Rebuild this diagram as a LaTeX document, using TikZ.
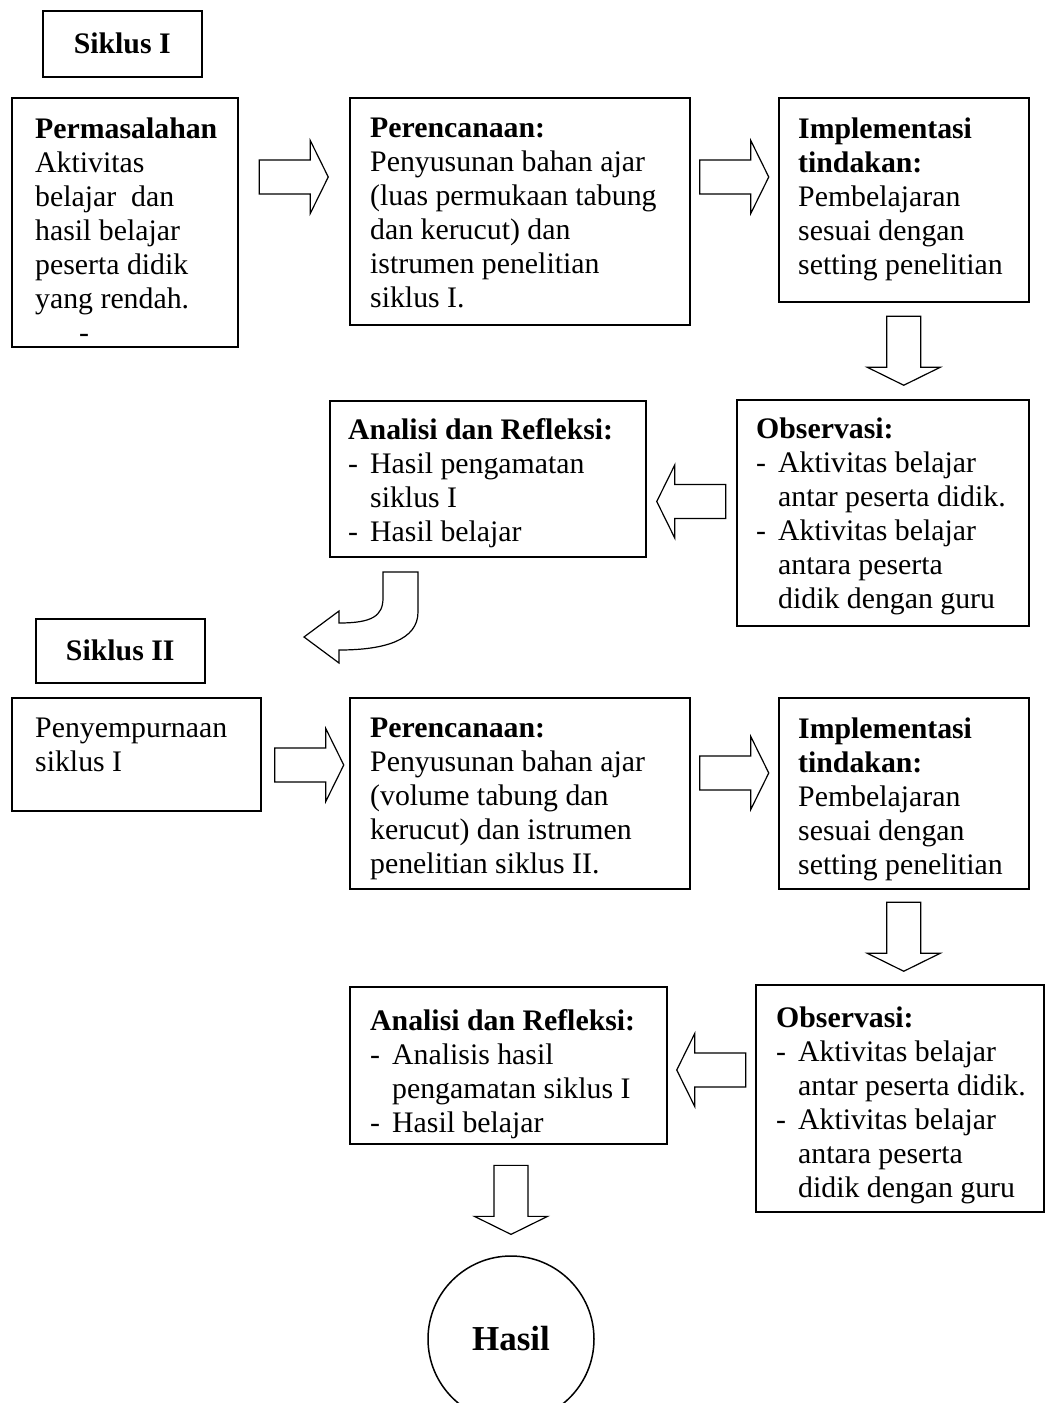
\documentclass[tikz,border=0pt]{standalone}
\usepackage{fontspec}
\setmainfont{Liberation Serif}
\usetikzlibrary{calc}

\newcommand{\dashitem}{\makebox[22pt][l]{-}}
\newcommand{\hangin}{\hspace*{22pt}}

\tikzset{
    box/.style={draw, line width=1.5pt, anchor=north west, inner sep=0pt},
    txt/.style={anchor=north west, align=left, inner sep=0pt,
        font=\fontsize{29.8}{34}\selectfont, execute at begin node=\strut},
    barrow/.pic={
        \draw[line width=1.2pt, fill=white] (-34.5,-17) -- (16.5,-17) -- (16.5,-36.5)
            -- (34.5,0) -- (16.5,36.5) -- (16.5,17) -- (-34.5,17) -- cycle;
    }
}

\begin{document}
\begin{tikzpicture}[x=1pt, y=-1pt]
    \useasboundingbox (0,0) rectangle (1045,1403);

    % Siklus I
    \node[box, minimum width=159, minimum height=66, font=\fontsize{29.8}{34}\selectfont\bfseries] (sika) at (42,10) {Siklus I};

    \node[box, minimum width=226, minimum height=249] (perm) at (11,97) {};
    \node[box, minimum width=340, minimum height=227] (plana) at (349,97) {};
    \node[box, minimum width=250, minimum height=204] (impla) at (778,97) {};
    \node[box, minimum width=292, minimum height=226] (obsa) at (736,399) {};
    \node[box, minimum width=316, minimum height=156] (anaa) at (329,400) {};

    \node[txt] (permT) at (35,118) {\textbf{Permasalahan}\\Aktivitas\\belajar\ \ dan\\hasil belajar\\peserta didik\\yang rendah.\\\hspace*{44pt}-};
    \node[txt] (planaT) at (370,118) {\textbf{Perencanaan:}\\Penyusunan bahan ajar\\(luas permukaan tabung\\dan kerucut) dan\\istrumen penelitian\\siklus I.};
    \node[txt] (implaT) at (798,118) {\textbf{Implementasi}\\\textbf{tindakan:}\\Pembelajaran\\sesuai dengan\\setting penelitian};
    \node[txt] (obsaT) at (756,418) {\textbf{Observasi:}\\\dashitem Aktivitas belajar\\\hangin antar peserta didik.\\\dashitem Aktivitas belajar\\\hangin antara peserta\\\hangin didik dengan guru};
    \node[txt] (anaaT) at (348,418) {\textbf{Analisi dan Refleksi:}\\\dashitem Hasil pengamatan\\\hangin siklus I\\\dashitem Hasil belajar};

    \pic at ($(perm.north east)!.5!(plana.north west)+(0,80)$) {barrow};
    \pic at ($(plana.north east)!.5!(impla.north west)+(0,80)$) {barrow};
    \pic[rotate=-90] at ($(impla.south)!.5!(impla.south |- obsa.north)$) {barrow};
    \pic[rotate=180] at ($(anaa.north east)!.5!(obsa.north west)+(0,102)$) {barrow};

    % panah belok ke siklus II
    \draw[line width=1.2pt, fill=white] (383,572) -- (418,572) -- (418,612)
        .. controls (418,640) and (385,650) .. (339,650) -- (339,663) -- (304,637)
        -- (339,611) -- (339,623) .. controls (372,623) and (383,616) .. (383,598) -- cycle;

    % Siklus II
    \node[box, minimum width=169, minimum height=64, font=\fontsize{29.8}{34}\selectfont\bfseries] (sikb) at (35,618) {Siklus II};

    \node[box, minimum width=249, minimum height=113] (perb) at (11,697) {};
    \node[box, minimum width=340, minimum height=191] (planb) at (349,697) {};
    \node[box, minimum width=250, minimum height=191] (implb) at (778,697) {};
    \node[box, minimum width=317, minimum height=157] (anab) at (349,986) {};
    \node[box, minimum width=288, minimum height=227] (obsb) at (755,984) {};

    \node[txt] (perbT) at (35,718) {Penyempurnaan\\siklus I};
    \node[txt] (planbT) at (370,718) {\textbf{Perencanaan:}\\Penyusunan bahan ajar\\(volume tabung dan\\kerucut) dan istrumen\\penelitian siklus II.};
    \node[txt] (implbT) at (798,718) {\textbf{Implementasi}\\\textbf{tindakan:}\\Pembelajaran\\sesuai dengan\\setting penelitian};
    \node[txt] (anabT) at (370,1009) {\textbf{Analisi dan Refleksi:}\\\dashitem Analisis hasil\\\hangin pengamatan siklus I\\\dashitem Hasil belajar};
    \node[txt] (obsbT) at (776,1007) {\textbf{Observasi:}\\\dashitem Aktivitas belajar\\\hangin antar peserta didik.\\\dashitem Aktivitas belajar\\\hangin antara peserta\\\hangin didik dengan guru};

    \node[circle, draw, line width=1.5pt, minimum size=166, inner sep=0pt, font=\fontsize{35}{40}\selectfont\bfseries] (hasil) at (511,1339) {Hasil};

    \pic at ($(perb.north east)!.5!(planb.north west)+(4,68)$) {barrow};
    \pic at ($(planb.north east)!.5!(implb.north west)+(0,76)$) {barrow};
    \pic[rotate=-90] at ($(implb.south)!.5!(implb.south |- obsb.north)$) {barrow};
    \pic[rotate=180] at ($(anab.north east)!.5!(obsb.north west)+(0,85)$) {barrow};
    \pic[rotate=-90] at ($(anab.south -| hasil.north)!.5!(hasil.north)$) {barrow};
\end{tikzpicture}
\end{document}
